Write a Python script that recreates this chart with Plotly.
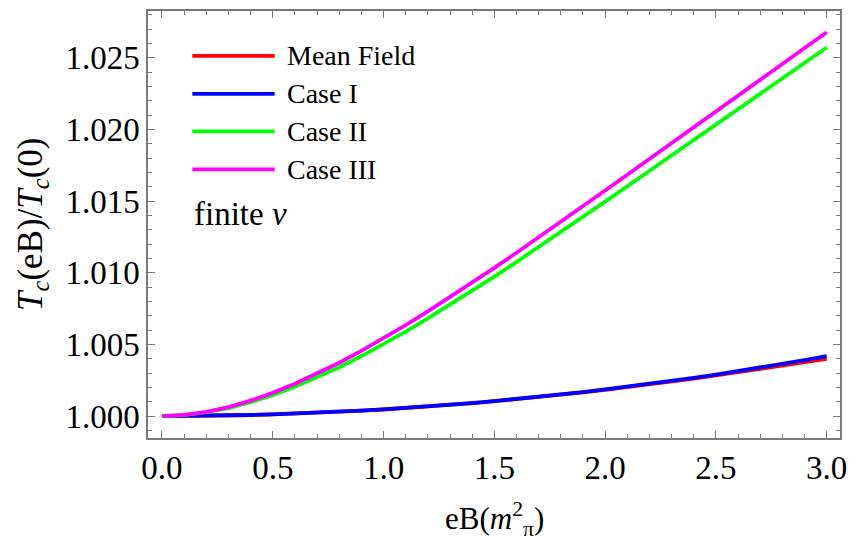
import plotly.graph_objects as go

# Magnetic field in units of m_pi^2
eB = [0.0, 0.1, 0.2, 0.3, 0.4, 0.5, 0.6, 0.7, 0.8, 0.9,
      1.0, 1.1, 1.2, 1.3, 1.4, 1.5, 1.6, 1.7, 1.8, 1.9,
      2.0, 2.1, 2.2, 2.3, 2.4, 2.5, 2.6, 2.7, 2.8, 2.9, 3.0]

# Tc(eB)/Tc(0) for each model
mean_field = [1.000000, 1.000005, 1.000019, 1.000042, 1.000074, 1.000115, 1.000166,
              1.000226, 1.000295, 1.000374, 1.000460, 1.000557, 1.000663, 1.000778,
              1.000903, 1.001038, 1.001180, 1.001328, 1.001486, 1.001652, 1.001826,
              1.002010, 1.002203, 1.002404, 1.002614, 1.002833, 1.003060, 1.003296,
              1.003541, 1.003794, 1.004000]
case_1 = [1.000000, 1.000005, 1.000019, 1.000042, 1.000074, 1.000116, 1.000167,
          1.000227, 1.000297, 1.000376, 1.000464, 1.000561, 1.000668, 1.000784,
          1.000909, 1.001044, 1.001188, 1.001341, 1.001503, 1.001675, 1.001856,
          1.002046, 1.002246, 1.002455, 1.002673, 1.002900, 1.003137, 1.003383,
          1.003638, 1.003902, 1.004176]
case_2 = [1.00000, 1.00007, 1.00027, 1.00056, 1.00097, 1.00146, 1.00204, 1.00269,
          1.00341, 1.00419, 1.00502, 1.00590, 1.00682, 1.00777, 1.00874, 1.00973,
          1.01075, 1.01179, 1.01284, 1.01390, 1.01497, 1.01604, 1.01712, 1.01820,
          1.01928, 1.02036, 1.02144, 1.02252, 1.02359, 1.02466, 1.02572]
case_3 = [1.00000, 1.00008, 1.00030, 1.00063, 1.00108, 1.00162, 1.00225, 1.00295,
          1.00372, 1.00455, 1.00543, 1.00635, 1.00731, 1.00830, 1.00931, 1.01034,
          1.01140, 1.01247, 1.01355, 1.01464, 1.01574, 1.01684, 1.01795, 1.01906,
          1.02017, 1.02128, 1.02239, 1.02350, 1.02460, 1.02570, 1.02679]

series_names = ["Mean Field", "Case I", "Case II", "Case III"]
series_values = [mean_field, case_1, case_2, case_3]
series_colors = ["#FF0000", "#0000FF", "#00FF00", "#FF00FF"]

x_ticks = [0.0, 0.5, 1.0, 1.5, 2.0, 2.5, 3.0]
y_ticks = [1.000, 1.005, 1.010, 1.015, 1.020, 1.025]

FONT = "Liberation Serif"
FRAME = "#7a7a7a"

fig = go.Figure()
for name, vals, col in zip(series_names, series_values, series_colors):
    fig.add_trace(go.Scatter(x=eB, y=vals, mode="lines", name=name,
                             line=dict(color=col, width=3.8),
                             showlegend=False))

# Hand-placed legend: long line samples with labels
leg_x0, leg_x1 = 0.064, 0.183
leg_y = [0.895, 0.806, 0.718, 0.629]
for name, col, yy in zip(series_names, series_colors, leg_y):
    fig.add_shape(type="line", xref="paper", yref="paper", x0=leg_x0, x1=leg_x1,
                  y0=yy, y1=yy, line=dict(color=col, width=3.8))
    fig.add_annotation(xref="paper", yref="paper", x=0.198, y=yy, text=name,
                       showarrow=False, xanchor="left", yanchor="middle",
                       font=dict(family=FONT, size=28, color="black"))

fig.add_annotation(xref="paper", yref="paper", x=0.064, y=0.525, text="finite <i>ν</i>",
                   showarrow=False, xanchor="left", yanchor="middle",
                   font=dict(family=FONT, size=33, color="black"))

# Axis titles
fig.add_annotation(xref="paper", yref="paper", x=0.5, y=-0.19,
                   text="eB(<i>m</i><sup>2</sup><sub>π</sub>)", showarrow=False,
                   xanchor="center", yanchor="middle",
                   font=dict(family=FONT, size=31, color="black"))
fig.add_annotation(xref="paper", yref="paper", x=-0.167, y=0.5,
                   text="<i>T</i><sub><i>c</i></sub>(eB)/<i>T</i><sub><i>c</i></sub>(0)",
                   showarrow=False, textangle=-90, xanchor="center", yanchor="middle",
                   font=dict(family=FONT, size=35, color="black"))

axis_common = dict(showgrid=False, zeroline=False, showline=True, linecolor=FRAME,
                   linewidth=1.5, mirror="ticks", ticks="inside", tickcolor=FRAME,
                   tickwidth=1.2, tickfont=dict(family=FONT, size=33, color="black"))

fig.update_xaxes(range=[-0.063, 3.06], tickvals=x_ticks,
                 ticktext=[f"{v:.1f}" for v in x_ticks], ticklen=7,
                 minor=dict(dtick=0.1, ticklen=4, ticks="inside", tickcolor=FRAME,
                            tickwidth=1.0, showgrid=False),
                 **axis_common)
fig.update_yaxes(range=[0.99847, 1.02827], tickvals=y_ticks,
                 ticktext=[f"{v:.3f}" for v in y_ticks], ticklen=7,
                 minor=dict(dtick=0.001, tick0=1.0, ticklen=4, ticks="inside",
                            tickcolor=FRAME, tickwidth=1.0, showgrid=False),
                 **axis_common)

fig.update_layout(width=856, height=542, plot_bgcolor="white", paper_bgcolor="white",
                  margin=dict(l=148, r=13, t=9, b=104))

fig.write_html("out.html")
